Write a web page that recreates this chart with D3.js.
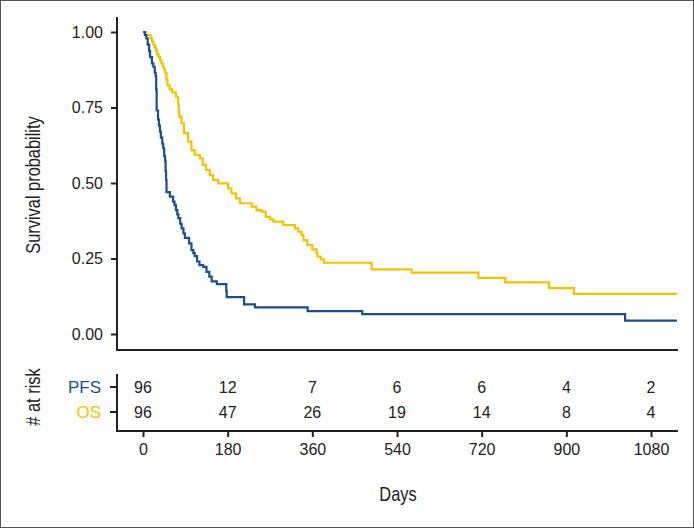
<!DOCTYPE html>
<html>
<head>
<meta charset="utf-8">
<script src="https://cdn.jsdelivr.net/npm/d3@7"></script>
<style>
  html, body { margin: 0; padding: 0; background: #fff; }
  svg { display: block; }
</style>
</head>
<body>
<svg id="chart" width="694" height="528"></svg>
<script>
// ---- Data ----
const seriesNames = ["PFS", "OS"];
const seriesColors = ["#1B4F8A", "#F6C200"];
const endDay = 1135;

// PFS Kaplan-Meier steps: [day, survival after event]
const pfsDays = [0, 4, 7, 10, 13, 15, 19, 22, 25, 27, 28, 29, 32, 34, 36, 38, 41, 43, 45, 47, 48, 49, 50, 57, 64, 67, 70, 73, 75, 79, 82, 86, 89, 98, 103, 107, 110, 115, 120, 128, 135, 141, 146, 157, 177, 178, 215, 238, 350, 466, 1025];
const pfsSurv = [1.0, 0.99, 0.979, 0.958, 0.937, 0.917, 0.896, 0.885, 0.865, 0.854, 0.81, 0.74, 0.71, 0.69, 0.67, 0.65, 0.63, 0.615, 0.59, 0.573, 0.54, 0.51, 0.47, 0.455, 0.438, 0.427, 0.41, 0.396, 0.384, 0.365, 0.35, 0.333, 0.318, 0.30, 0.278, 0.268, 0.258, 0.24, 0.228, 0.222, 0.206, 0.19, 0.174, 0.165, 0.143, 0.122, 0.098, 0.088, 0.076, 0.066, 0.044];

// OS Kaplan-Meier steps
const osDays = [0, 6, 16, 19, 22, 25, 28, 30, 33, 36, 39, 42, 45, 47, 50, 52, 57, 62, 70, 75, 76, 77, 82, 87, 96, 103, 110, 121, 127, 134, 142, 149, 160, 181, 188, 198, 206, 231, 241, 252, 261, 270, 277, 298, 323, 330, 337, 341, 349, 360, 369, 371, 378, 385, 486, 571, 713, 770, 863, 916];
const osSurv = [1.0, 0.99, 0.979, 0.969, 0.958, 0.948, 0.938, 0.927, 0.917, 0.906, 0.896, 0.885, 0.875, 0.865, 0.844, 0.823, 0.81, 0.80, 0.784, 0.76, 0.74, 0.72, 0.698, 0.666, 0.637, 0.609, 0.593, 0.582, 0.56, 0.543, 0.526, 0.51, 0.499, 0.482, 0.466, 0.449, 0.433, 0.422, 0.41, 0.405, 0.388, 0.38, 0.372, 0.361, 0.35, 0.339, 0.328, 0.311, 0.295, 0.28, 0.267, 0.256, 0.247, 0.236, 0.214, 0.203, 0.186, 0.171, 0.152, 0.133];

// x ticks and risk table
const xTicks = [0, 180, 360, 540, 720, 900, 1080];
const yTicks = [0, 0.25, 0.5, 0.75, 1.0];
const riskPFS = [96, 12, 7, 6, 6, 4, 2];
const riskOS = [96, 47, 26, 19, 14, 8, 4];

// ---- Layout ----
const svg = d3.select("#chart");
const W = 694, H = 528;
const axisLeft = 117, axisRight = 678;
const plotTop = 17, plotBottom = 350;
const riskTop = 374, riskBottom = 431;
const axisColor = "#222";
const tickFont = "'Liberation Sans', Arial, Helvetica, sans-serif";
const titleFont = "'Liberation Sans', Arial, sans-serif";
const tickSize = 16;

const x = d3.scaleLinear().domain([0, 1080]).range([143, 651]);
const y = d3.scaleLinear().domain([0, 1]).range([334, 32]);

// outer frame
svg.append("rect").attr("x", 0.5).attr("y", 0.5).attr("width", W - 1).attr("height", H - 1)
  .attr("fill", "#fff").attr("stroke", "#555").attr("stroke-width", 1);

// ---- Main plot ----
const yAxisG = svg.append("g").attr("transform", `translate(${axisLeft},0)`)
  .call(d3.axisLeft(y).tickValues(yTicks).tickFormat(d3.format(".2f")).tickSize(6).tickPadding(8));
yAxisG.select(".domain").remove();
yAxisG.selectAll(".tick line").attr("stroke", axisColor).attr("stroke-width", 2);
yAxisG.selectAll(".tick text").attr("font-family", tickFont).attr("font-size", tickSize).attr("fill", "#222");

svg.append("line").attr("x1", axisLeft).attr("x2", axisLeft).attr("y1", plotTop).attr("y2", plotBottom + 1)
  .attr("stroke", axisColor).attr("stroke-width", 2);
svg.append("line").attr("x1", axisLeft - 1).attr("x2", axisRight).attr("y1", plotBottom).attr("y2", plotBottom)
  .attr("stroke", axisColor).attr("stroke-width", 2);

function steps(days, surv) {
  const pts = days.map((d, i) => [d, surv[i]]);
  pts.push([endDay, surv[surv.length - 1]]);
  return pts;
}
const line = d3.line().x(d => x(d[0])).y(d => y(d[1])).curve(d3.curveStepAfter);
const curves = [steps(osDays, osSurv), steps(pfsDays, pfsSurv)];
const curveColors = [seriesColors[1], seriesColors[0]];
curves.forEach((c, i) => {
  svg.append("path").datum(c).attr("d", line).attr("fill", "none")
    .attr("stroke", curveColors[i]).attr("stroke-width", 2.2).attr("stroke-linejoin", "miter");
});

// condensed title helper
function title(tx, ty, rot, txt) {
  svg.append("text").attr("transform", `translate(${tx},${ty}) rotate(${rot}) scale(0.8,1)`)
    .attr("text-anchor", "middle").attr("font-family", titleFont).attr("font-size", 20.5)
    .attr("fill", "#222").text(txt);
}
title(40, 185, -90, "Survival probability");

// ---- Risk table ----
const rowY = d3.scalePoint().domain(seriesNames).range([387, 412]);
svg.append("line").attr("x1", axisLeft).attr("x2", axisLeft).attr("y1", riskTop).attr("y2", riskBottom + 1)
  .attr("stroke", axisColor).attr("stroke-width", 2);
seriesNames.forEach((s, i) => {
  svg.append("line").attr("x1", axisLeft - 7).attr("x2", axisLeft).attr("y1", rowY(s)).attr("y2", rowY(s))
    .attr("stroke", axisColor).attr("stroke-width", 2);
  svg.append("text").attr("x", 101).attr("y", rowY(s)).attr("dy", "0.35em").attr("text-anchor", "end")
    .attr("font-family", tickFont).attr("font-size", 17).attr("fill", seriesColors[i]).text(s);
});
const riskRows = [riskPFS, riskOS];
riskRows.forEach((row, i) => {
  svg.append("g").selectAll("text").data(row).join("text")
    .attr("x", (d, j) => x(xTicks[j])).attr("y", rowY(seriesNames[i])).attr("dy", "0.35em")
    .attr("text-anchor", "middle").attr("font-family", tickFont).attr("font-size", tickSize)
    .attr("fill", "#222").text(d => d);
});

const xAxisG = svg.append("g").attr("transform", `translate(0,${riskBottom})`)
  .call(d3.axisBottom(x).tickValues(xTicks).tickFormat(d3.format("d")).tickSize(6).tickPadding(7));
xAxisG.select(".domain").remove();
xAxisG.selectAll(".tick line").attr("stroke", axisColor).attr("stroke-width", 2);
xAxisG.selectAll(".tick text").attr("font-family", tickFont).attr("font-size", tickSize).attr("fill", "#222");
svg.append("line").attr("x1", axisLeft - 1).attr("x2", axisRight).attr("y1", riskBottom).attr("y2", riskBottom)
  .attr("stroke", axisColor).attr("stroke-width", 2);

title(40, 397, -90, "# at risk");
svg.append("text").attr("transform", `translate(398,501) scale(0.8,1)`)
  .attr("text-anchor", "middle").attr("font-family", titleFont).attr("font-size", 20.5)
  .attr("fill", "#222").text("Days");
</script>
</body>
</html>
